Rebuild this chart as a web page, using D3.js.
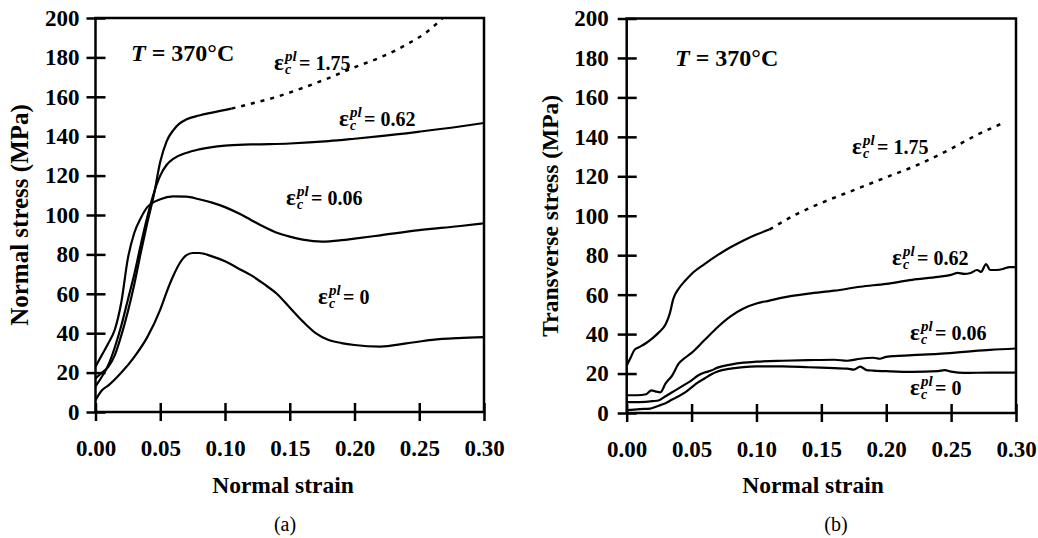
<!DOCTYPE html>
<html>
<head>
<meta charset="utf-8">
<script src="https://cdn.jsdelivr.net/npm/d3@7"></script>
<style>
body { margin: 0; background: #fff; }
text { font-family: "Liberation Serif", "Times New Roman", serif; fill: #000; }
</style>
</head>
<body>
<svg id="chart" width="1038" height="538"></svg>
<script>
// tick values + labels, shared by both panels
var xTicks = [0, 0.05, 0.10, 0.15, 0.20, 0.25, 0.30];
var xTickLabels = ["0.00", "0.05", "0.10", "0.15", "0.20", "0.25", "0.30"];
var yTicks = [0, 20, 40, 60, 80, 100, 120, 140, 160, 180, 200];

// (a) normal stress vs normal strain, [strain, MPa]
var normal0 = [[0,6],[0.005,11],[0.01,13.5],[0.02,20],[0.03,28],[0.04,38],[0.05,52],[0.055,61],[0.06,69],[0.065,75.5],[0.07,79.5],[0.075,80.7],[0.08,80.7],[0.09,79],[0.10,76.5],[0.11,73],[0.12,69.5],[0.13,65],[0.14,60],[0.15,53],[0.16,46],[0.17,40],[0.18,36.5],[0.19,35],[0.20,34],[0.22,33.2],[0.24,34.8],[0.26,36.6],[0.28,37.5],[0.30,38]];
var normal006 = [[0,23],[0.005,29],[0.01,35],[0.015,42],[0.02,56],[0.025,78],[0.03,91],[0.035,98.5],[0.04,104],[0.05,108],[0.06,109.5],[0.07,109.3],[0.08,108],[0.09,106.3],[0.10,104],[0.11,101],[0.12,97.5],[0.13,94],[0.14,91],[0.15,89],[0.16,87.5],[0.175,86.5],[0.19,87.2],[0.20,88],[0.22,89.7],[0.25,92.3],[0.28,94.3],[0.30,95.8]];
var normal062 = [[0,13],[0.005,18],[0.01,24],[0.015,33],[0.02,44],[0.025,57],[0.03,70],[0.035,85],[0.04,99],[0.045,111],[0.05,120],[0.055,125.5],[0.06,128.5],[0.07,131.5],[0.08,133.3],[0.10,135.2],[0.12,135.8],[0.15,136.3],[0.18,137.5],[0.20,138.7],[0.22,140],[0.25,142.3],[0.28,144.8],[0.30,146.7]];
var normal175 = [[0,17],[0.005,20],[0.01,23],[0.015,29],[0.02,39],[0.025,51],[0.03,65],[0.035,81],[0.04,96],[0.045,110],[0.05,127],[0.055,137.5],[0.06,143],[0.065,146.5],[0.07,148.5],[0.08,150.5],[0.09,152],[0.105,154]];
var normal175Dotted = [[0.105,154],[0.12,156.5],[0.14,160],[0.16,164.5],[0.18,169.5],[0.20,175],[0.22,180],[0.24,186.5],[0.255,192.5],[0.268,200]];

// (b) transverse stress vs normal strain
var trans0 = [[0,1.5],[0.01,2],[0.018,2.2],[0.022,3],[0.026,4],[0.03,5],[0.035,6.8],[0.04,8.5],[0.045,10.5],[0.05,13],[0.055,15.5],[0.06,17.5],[0.065,19.5],[0.07,21],[0.08,22.5],[0.09,23.3],[0.10,23.6],[0.12,23.6],[0.14,23.2],[0.16,22.7],[0.17,22.5],[0.175,22],[0.18,23.5],[0.185,21.7],[0.19,21.5],[0.20,21.2],[0.22,20.8],[0.24,21.2],[0.245,21.7],[0.25,21],[0.26,20.3],[0.28,20.5],[0.30,20.5]];
var trans006 = [[0,5.5],[0.01,5.5],[0.02,6],[0.025,6.5],[0.03,8.5],[0.035,10.5],[0.04,12.5],[0.045,14.5],[0.05,16.5],[0.055,19],[0.06,20.5],[0.065,21.5],[0.07,23],[0.08,24.5],[0.09,25.5],[0.10,26],[0.12,26.5],[0.14,26.8],[0.16,27],[0.17,26.5],[0.18,27.5],[0.19,28],[0.195,27.5],[0.20,28.5],[0.22,29.3],[0.24,30],[0.26,31],[0.28,32],[0.30,32.7]];
var trans062 = [[0,9],[0.008,9],[0.015,9.5],[0.019,11.5],[0.022,11],[0.026,10.5],[0.03,15],[0.035,19],[0.04,25],[0.045,28],[0.05,30.5],[0.06,37],[0.07,43.5],[0.08,49],[0.09,53],[0.10,55.5],[0.11,57],[0.12,58.5],[0.14,60.5],[0.16,62],[0.18,64],[0.20,65.5],[0.22,67.5],[0.24,69],[0.25,70],[0.255,71],[0.26,70.5],[0.265,71],[0.27,72.5],[0.273,71.5],[0.277,75.5],[0.28,72.5],[0.285,72.5],[0.29,73],[0.295,74],[0.30,74]];
var trans175 = [[0,24],[0.003,28],[0.006,32],[0.01,33.5],[0.015,35.5],[0.02,38],[0.025,41],[0.03,45],[0.033,50],[0.036,58],[0.04,63],[0.045,67],[0.05,70.5],[0.06,75.5],[0.07,80],[0.08,84],[0.09,87.5],[0.10,90.5],[0.11,93]];
var trans175Dotted = [[0.11,93],[0.13,100.5],[0.15,106.5],[0.175,113],[0.20,119.5],[0.225,126],[0.25,134],[0.27,141],[0.29,147]];

var svg = d3.select("#chart");
svg.append("rect").attr("width", 1038).attr("height", 538).attr("fill", "#fff");

function epsLabel(g, x, y, val) {
  g.append("text").attr("x", x).attr("y", y).attr("font-size", 23).attr("font-weight", "bold").text("ε");
  g.append("text").attr("x", x + 11).attr("y", y + 4).attr("font-size", 14).attr("font-weight", "bold").attr("font-style", "italic").text("c");
  g.append("text").attr("x", x + 11).attr("y", y - 9).attr("font-size", 15).attr("font-weight", "bold").attr("font-style", "italic").text("pl");
  g.append("text").attr("x", x + 25).attr("y", y).attr("font-size", 20).attr("font-weight", "bold").text("= " + val);
}

function drawPanel(p) {
  var x = d3.scaleLinear().domain([0, 0.30]).range([p.left, p.right]);
  var y = d3.scaleLinear().domain([0, 200]).range([p.bottom, p.top]);
  var g = svg.append("g");

  // frame
  g.append("rect")
    .attr("x", p.left).attr("y", p.top)
    .attr("width", p.right - p.left).attr("height", p.bottom - p.top)
    .attr("fill", "none").attr("stroke", "#000").attr("stroke-width", 2.5);

  // y axis, ticks cross the line
  var ya = g.append("g").attr("transform", "translate(" + p.left + ",0)")
    .call(d3.axisLeft(y).tickValues(yTicks).tickSize(9).tickFormat(d3.format("d")));
  ya.select(".domain").remove();
  ya.selectAll(".tick line").attr("x1", 10).attr("x2", -9).attr("stroke-width", 2.5);
  ya.selectAll(".tick text").attr("x", -p.yPad)
    .attr("font-size", 23).attr("font-weight", "bold")
    .attr("font-family", "Liberation Serif, serif");

  var xa = g.append("g").attr("transform", "translate(0," + p.bottom + ")")
    .call(d3.axisBottom(x).tickValues(xTicks).tickSize(9).tickFormat(function(d, i) { return xTickLabels[i]; }));
  xa.select(".domain").remove();
  xa.selectAll(".tick line").attr("y1", -9).attr("y2", 9).attr("stroke-width", 2.5);
  xa.selectAll(".tick text").attr("y", 28)
    .attr("font-size", 23).attr("font-weight", "bold")
    .attr("font-family", "Liberation Serif, serif");

  var line = d3.line().x(function(d) { return x(d[0]); }).y(function(d) { return y(d[1]); })
    .curve(d3.curveMonotoneX);

  p.solid.forEach(function(s) {
    g.append("path").datum(s).attr("d", line)
      .attr("fill", "none").attr("stroke", "#000").attr("stroke-width", 2.2);
  });
  g.append("path").datum(p.dotted).attr("d", line)
    .attr("fill", "none").attr("stroke", "#000").attr("stroke-width", 2.5)
    .attr("stroke-dasharray", "4,6");

  // axis titles
  g.append("text").attr("x", p.xTitleX).attr("y", 493)
    .attr("text-anchor", "middle").attr("font-size", 23.5).attr("font-weight", "bold")
    .text("Normal strain");
  g.append("text").attr("transform", "translate(" + p.yTitleX + "," + (p.top + p.bottom) / 2 + ") rotate(-90)")
    .attr("text-anchor", "middle").attr("font-size", p.yTitleSize).attr("font-weight", "bold")
    .text(p.yTitle);

  // temperature note
  var tn = g.append("text").attr("x", p.tX).attr("y", p.tY).attr("font-size", 24).attr("font-weight", "bold");
  tn.append("tspan").attr("font-style", "italic").text("T");
  tn.append("tspan").text(" = 370°C");

  p.labels.forEach(function(l) { epsLabel(g, l[0], l[1], l[2]); });

  g.append("text").attr("x", p.capX).attr("y", 531)
    .attr("text-anchor", "middle").attr("font-size", 20).text(p.caption);
}

drawPanel({
  left: 95.5, right: 484, top: 18, bottom: 412, yPad: 16,
  solid: [normal0, normal006, normal062, normal175], dotted: normal175Dotted,
  yTitle: "Normal stress (MPa)", yTitleX: 28, yTitleSize: 25, xTitleX: 283,
  tX: 131, tY: 61,
  labels: [[274, 70, "1.75"], [339, 126, "0.62"], [286, 205, "0.06"], [318, 304, "0"]],
  capX: 285, caption: "(a)"
});

drawPanel({
  left: 626.7, right: 1016, top: 18.5, bottom: 413, yPad: 18,
  solid: [trans0, trans006, trans062, trans175], dotted: trans175Dotted,
  yTitle: "Transverse stress (MPa)", yTitleX: 558, yTitleSize: 23.5, xTitleX: 813,
  tX: 675, tY: 66,
  labels: [[852, 154, "1.75"], [892, 265, "0.62"], [910, 340, "0.06"], [910, 395, "0"]],
  capX: 836, caption: "(b)"
});
</script>
</body>
</html>
